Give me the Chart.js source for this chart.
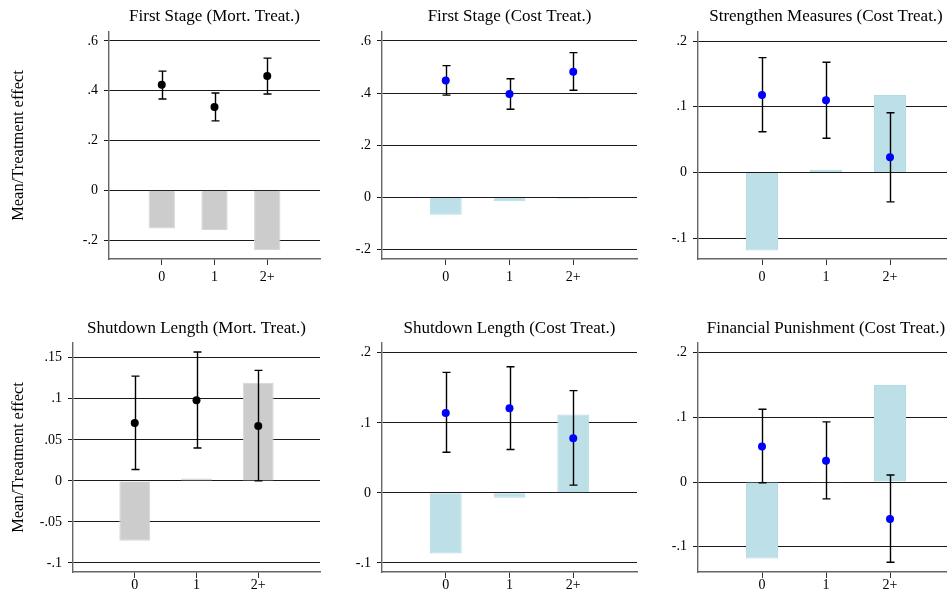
<!DOCTYPE html>
<html>
<head>
<meta charset="utf-8">
<script src="https://cdn.jsdelivr.net/npm/chart.js@4.4.0/dist/chart.umd.min.js"></script>
<style>
  html, body { margin: 0; padding: 0; background: #fff; overflow: hidden; }
  body { width: 947px; height: 601px; position: relative; }
  canvas { position: absolute; }
</style>
</head>
<body>
<canvas id="c1"></canvas>
<canvas id="c2"></canvas>
<canvas id="c3"></canvas>
<canvas id="c4"></canvas>
<canvas id="c5"></canvas>
<canvas id="c6"></canvas>
<script>
// x categories (positions 0, 1, 2 on a linear axis)
const categories = ['0', '1', '2+'];
const yAxisLabel = 'Mean/Treatment effect';

// First Stage (Mort. Treat.)
const fsMortBars = [-0.153, -0.159, -0.240];
const fsMortMean = [0.424, 0.335, 0.459];
const fsMortLo = [0.367, 0.279, 0.387];
const fsMortHi = [0.479, 0.391, 0.531];

// First Stage (Cost Treat.)
const fsCostBars = [-0.066, -0.015, -0.005];
const fsCostMean = [0.448, 0.396, 0.482];
const fsCostLo = [0.392, 0.338, 0.411];
const fsCostHi = [0.505, 0.455, 0.555];

// Strengthen Measures (Cost Treat.)
const smCostBars = [-0.119, 0.004, 0.118];
const smCostMean = [0.118, 0.110, 0.023];
const smCostLo = [0.062, 0.052, -0.045];
const smCostHi = [0.175, 0.168, 0.091];

// Shutdown Length (Mort. Treat.)
const slMortBars = [-0.073, 0.003, 0.1195];
const slMortMean = [0.0706, 0.0983, 0.0669];
const slMortLo = [0.0139, 0.040, 0.0];
const slMortHi = [0.1277, 0.157, 0.1346];

// Shutdown Length (Cost Treat.)
const slCostBars = [-0.0865, -0.007, 0.112];
const slCostMean = [0.114, 0.121, 0.078];
const slCostLo = [0.058, 0.062, 0.011];
const slCostHi = [0.172, 0.180, 0.146];

// Financial Punishment (Cost Treat.)
const fpCostBars = [-0.118, -0.001, 0.150];
const fpCostMean = [0.055, 0.033, -0.057];
const fpCostLo = [-0.001, -0.026, -0.124];
const fpCostHi = [0.1125, 0.093, 0.011];

// y tick values
const ticksWide = [-0.2, 0, 0.2, 0.4, 0.6];
const ticksTenth = [-0.1, 0, 0.1, 0.2];
const ticksTwentieth = [-0.1, -0.05, 0, 0.05, 0.1, 0.15];

const FONT = "'Liberation Serif', 'Times New Roman', serif";
const GREY = { fill: '#cccccc', border: '#d6d6d6', dot: '#000000' };
const BLUE = { fill: '#bddfe8', border: '#b3dbe6', dot: '#0000ff' };

// stata style: ".2", "-.05", "0"
function fmt(v) {
  if (Math.abs(v) < 1e-9) return '0';
  let s = String(+v.toFixed(3));
  return s.replace('0.', '.');
}

const errorBars = {
  id: 'errorBars',
  beforeDatasetDraw(chart, args) {
    const ds = chart.data.datasets[args.index];
    if (!ds.hi) return;
    const ctx = chart.ctx, xs = chart.scales.x, ys = chart.scales.y;
    ctx.save();
    ctx.strokeStyle = '#000';
    ctx.lineWidth = 1.4;
    ds.data.forEach((d, i) => {
      const px = Math.round(xs.getPixelForValue(d.x)) + 0.5;
      const top = ys.getPixelForValue(ds.hi[i]);
      const bot = ys.getPixelForValue(ds.lo[i]);
      ctx.beginPath();
      ctx.moveTo(px, top); ctx.lineTo(px, bot);
      ctx.moveTo(px - 4, top); ctx.lineTo(px + 4, top);
      ctx.moveTo(px - 4, bot); ctx.lineTo(px + 4, bot);
      ctx.stroke();
    });
    ctx.restore();
  }
};

function makePanel(id, p) {
  const cv = document.getElementById(id);
  cv.style.left = p.left + 'px';
  cv.style.top = p.top + 'px';
  cv.width = p.width;
  cv.height = p.height;
  const xy = (arr) => arr.map((v, i) => ({ x: i, y: v }));
  new Chart(cv.getContext('2d'), {
    type: 'bar',
    data: {
      datasets: [
        {
          type: 'scatter',
          data: xy(p.mean),
          lo: p.lo,
          hi: p.hi,
          backgroundColor: p.col.dot,
          borderColor: p.col.dot,
          pointRadius: 4,
          borderWidth: 0,
          order: 0
        },
        {
          data: xy(p.bars),
          backgroundColor: p.col.fill,
          borderColor: p.col.border,
          borderWidth: 1,
          barPercentage: 0.5,
          categoryPercentage: 1,
          order: 1
        }
      ]
    },
    options: {
      responsive: false,
      devicePixelRatio: 1,
      animation: false,
      layout: { padding: 0 },
      plugins: {
        legend: { display: false },
        tooltip: { enabled: false },
        title: {
          display: true,
          text: p.title,
          fullSize: false,
          color: '#000',
          font: { family: FONT, size: 17, weight: 'normal' },
          padding: { top: p.titlePad, bottom: 32 - 20.4 - p.titlePad }
        }
      },
      scales: {
        x: {
          type: 'linear',
          min: -1,
          max: 3,
          offset: false,
          afterBuildTicks: (s) => { s.ticks = categories.map((c, i) => ({ value: i })); },
          afterFit: (s) => { s.height = 30; s.paddingLeft = 0; s.paddingRight = 0; },
          ticks: {
            callback: (v) => categories[v],
            color: '#000',
            padding: p.xPad,
            font: { family: FONT, size: 14 },
            maxRotation: 0
          },
          grid: { offset: false, drawOnChartArea: false, drawTicks: true, tickLength: 6, color: '#333' },
          border: { color: '#666', width: 1.4 }
        },
        y: {
          min: p.ymin,
          max: p.ymax,
          afterBuildTicks: (s) => { s.ticks = p.ticks.map(v => ({ value: v })); },
          afterFit: (s) => { s.width = p.yW; },
          ticks: {
            callback: (v) => fmt(v),
            color: '#000',
            padding: 6,
            font: { family: FONT, size: 14 }
          },
          grid: { color: '#1a1a1a', lineWidth: 1, tickLength: 5 },
          border: { color: '#666', width: 1.4 },
          title: {
            display: !!p.ylabel,
            text: yAxisLabel,
            color: '#000',
            font: { family: FONT, size: 16.5 },
            padding: { top: 9, bottom: 0 }
          }
        }
      }
    },
    plugins: [errorBars]
  });
}

makePanel('c1', { title: 'First Stage (Mort. Treat.)', left: 0, top: 0, width: 324, height: 289, yW: 109, titlePad: 6, xPad: 4, ylabel: true,
  bars: fsMortBars, mean: fsMortMean, lo: fsMortLo, hi: fsMortHi, col: GREY, ymin: -0.276, ymax: 0.636, ticks: ticksWide });
makePanel('c2', { title: 'First Stage (Cost Treat.)', left: 322, top: 0, width: 319, height: 289, yW: 60, titlePad: 6, xPad: 4,
  bars: fsCostBars, mean: fsCostMean, lo: fsCostLo, hi: fsCostHi, col: BLUE, ymin: -0.236, ymax: 0.634, ticks: ticksWide });
makePanel('c3', { title: 'Strengthen Measures (Cost Treat.)', left: 638, top: 0, width: 320, height: 289, yW: 60, titlePad: 6, xPad: 4,
  bars: smCostBars, mean: smCostMean, lo: smCostLo, hi: smCostHi, col: BLUE, ymin: -0.132, ymax: 0.214, ticks: ticksTenth });
makePanel('c4', { title: 'Shutdown Length (Mort. Treat.)', left: 0, top: 311, width: 324, height: 291, yW: 73, titlePad: 7, xPad: -1, ylabel: true,
  bars: slMortBars, mean: slMortMean, lo: slMortLo, hi: slMortHi, col: GREY, ymin: -0.111, ymax: 0.168, ticks: ticksTwentieth });
makePanel('c5', { title: 'Shutdown Length (Cost Treat.)', left: 322, top: 311, width: 319, height: 291, yW: 60, titlePad: 7, xPad: -1,
  bars: slCostBars, mean: slCostMean, lo: slCostLo, hi: slCostHi, col: BLUE, ymin: -0.113, ymax: 0.214, ticks: ticksTenth });
makePanel('c6', { title: 'Financial Punishment (Cost Treat.)', left: 638, top: 311, width: 320, height: 291, yW: 60, titlePad: 7, xPad: -1,
  bars: fpCostBars, mean: fpCostMean, lo: fpCostLo, hi: fpCostHi, col: BLUE, ymin: -0.139, ymax: 0.215, ticks: ticksTenth });
</script>
</body>
</html>
